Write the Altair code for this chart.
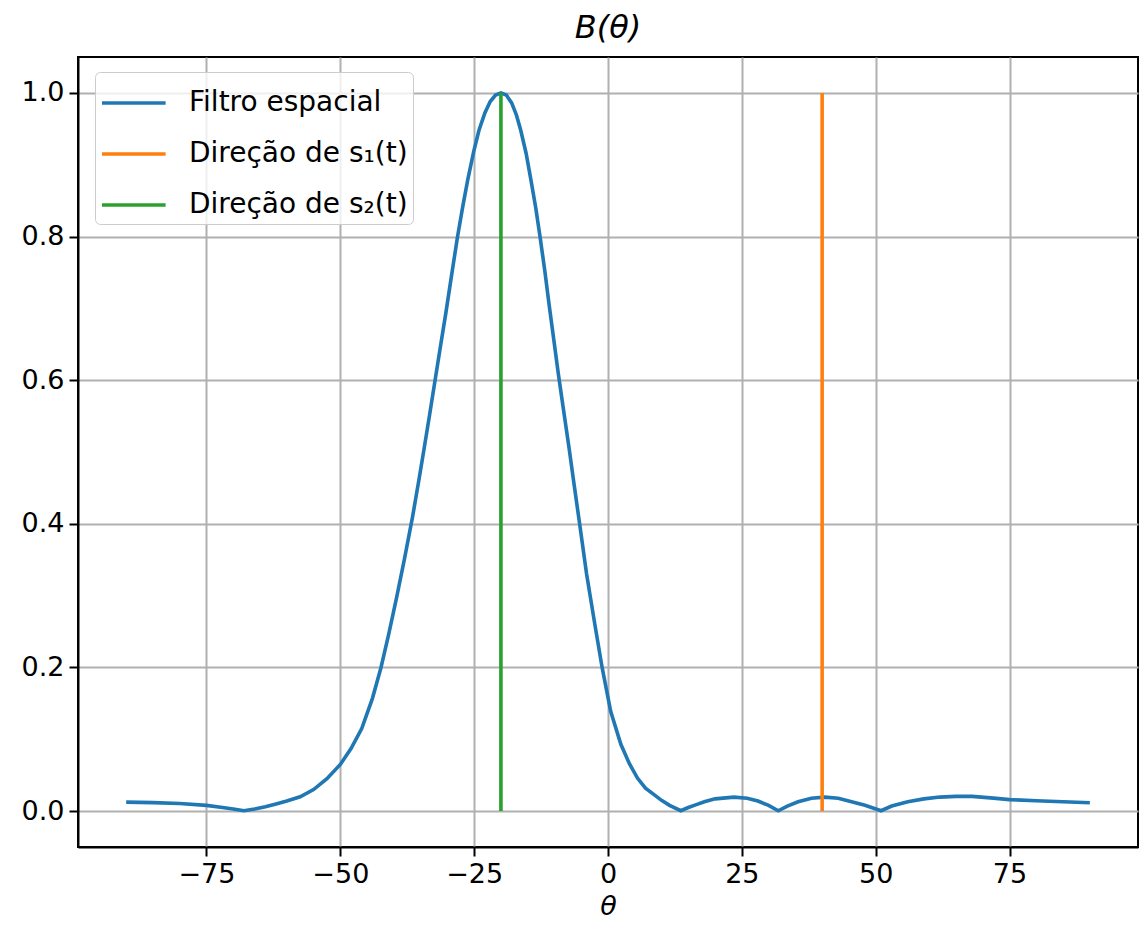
import altair as alt
import pandas as pd

# Spatial filter response B(theta)
theta = [-90, -85, -80, -75, -72, -70, -68, -66, -64, -62, -60, -57.5, -55, -52.5, -50,
         -48, -46, -44, -42.4, -41, -39.5, -38, -36.5, -35.3, -34.3, -33.3, -32.3, -31.3,
         -30.3, -29.2, -28.1, -27.1, -26.2, -25.1, -24.1, -23, -22, -21, -20, -19, -18,
         -17.1, -16.3, -15.3, -14.4, -13.5, -12.7, -11.8, -11.0, -10.1, -9.3, -8.3, -7.3,
         -6.3, -5.3, -4.0, -2.5, -1.1, 0.5, 2.4, 4, 5.5, 7, 8.6, 10, 11.5, 13.6, 15, 16.5,
         18, 20, 23.5, 26, 28, 30, 31.8, 33.5, 35.5, 38, 40.5, 43, 45.5, 48, 51, 53, 56,
         59, 62, 65, 68, 72, 75, 80, 85, 90]
gain = [0.0125, 0.0118, 0.0105, 0.008, 0.005, 0.003, 0.0005, 0.003, 0.006, 0.010, 0.014,
        0.020, 0.030, 0.045, 0.065, 0.087, 0.115, 0.157, 0.200, 0.245, 0.297, 0.352,
        0.410, 0.462, 0.507, 0.553, 0.600, 0.647, 0.693, 0.747, 0.800, 0.843, 0.879,
        0.918, 0.948, 0.972, 0.988, 0.997, 1.000, 0.997, 0.986, 0.969, 0.948, 0.916,
        0.879, 0.840, 0.800, 0.752, 0.705, 0.655, 0.610, 0.558, 0.507, 0.453, 0.400,
        0.330, 0.262, 0.200, 0.139, 0.093, 0.066, 0.046, 0.032, 0.023, 0.015, 0.008,
        0.0005, 0.005, 0.009, 0.013, 0.017, 0.0195, 0.018, 0.014, 0.008, 0.0005, 0.007,
        0.013, 0.018, 0.0195, 0.018, 0.013, 0.008, 0.0005, 0.007, 0.013, 0.017, 0.0195,
        0.0205, 0.0205, 0.018, 0.016, 0.0145, 0.013, 0.0116]

# Source directions (vertical lines from 0 to 1)
dir_s1 = 40
dir_s2 = -20
dir_levels = [0, 1]

series_names = ["Filtro espacial", "Direção de s₁(t)", "Direção de s₂(t)"]
series_colors = ["#1f77b4", "#ff7f0e", "#2ca02c"]

x_ticks = [-75, -50, -25, 0, 25, 50, 75]
y_ticks = [0.0, 0.2, 0.4, 0.6, 0.8, 1.0]

df_curve = pd.DataFrame({"theta": theta, "B": gain, "serie": series_names[0], "ord": range(len(theta))})
df_s1 = pd.DataFrame({"theta": [dir_s1] * 2, "B": dir_levels, "serie": series_names[1], "ord": [0, 1]})
df_s2 = pd.DataFrame({"theta": [dir_s2] * 2, "B": dir_levels, "serie": series_names[2], "ord": [0, 1]})

FONT = "DejaVu Sans"
FS = 27

x_enc = alt.X("theta:Q",
              scale=alt.Scale(domain=[-99, 99], nice=False, zero=False),
              axis=alt.Axis(values=x_ticks, format="d", title="θ",
                            titleFontStyle="italic"))
y_enc = alt.Y("B:Q",
              scale=alt.Scale(domain=[-0.05, 1.05], nice=False, zero=False),
              axis=alt.Axis(values=y_ticks, format=".1f", title=None))
color_enc = alt.Color("serie:N",
                      scale=alt.Scale(domain=series_names, range=series_colors),
                      legend=alt.Legend(title=None, orient="none", legendX=17, legendY=15,
                                        symbolType="M-1,0H1.65", symbolSize=2304,
                                        symbolStrokeWidth=3.6, labelFontSize=28,
                                        labelFont=FONT, labelColor="black",
                                        labelLimit=500,
                                        labelOffset=37, rowPadding=11, padding=5,
                                        fillColor="rgba(255,255,255,0.8)",
                                        strokeColor="#cccccc", cornerRadius=5))

def line_layer(df):
    return alt.Chart(df).mark_line(strokeWidth=3.6, interpolate="linear").encode(
        x=x_enc, y=y_enc, color=color_enc, order="ord:Q")

chart = alt.layer(line_layer(df_curve), line_layer(df_s1), line_layer(df_s2)).properties(
    width=1060, height=790,
    background="white",
    title=alt.Title("B(θ)", font=FONT, fontSize=32, fontStyle="italic",
                    fontWeight="normal", color="black", offset=12),
    autosize=alt.AutoSizeParams(type="none"),
    padding={"left": 78, "top": 57, "right": 2, "bottom": 95},
).configure_view(
    stroke="black", strokeWidth=2
).configure_axis(
    labelFont=FONT, labelFontSize=FS, labelColor="black",
    titleFont=FONT, titleFontSize=FS, titleColor="black", titleFontWeight="normal",
    domainColor="black", domainWidth=2,
    tickColor="black", tickWidth=2, tickSize=9, labelPadding=5,
    grid=True, gridColor="#b0b0b0", gridWidth=2,
).configure_axisX(titlePadding=6)

chart.save("out.html", embed_options={"renderer": "svg", "actions": False})
